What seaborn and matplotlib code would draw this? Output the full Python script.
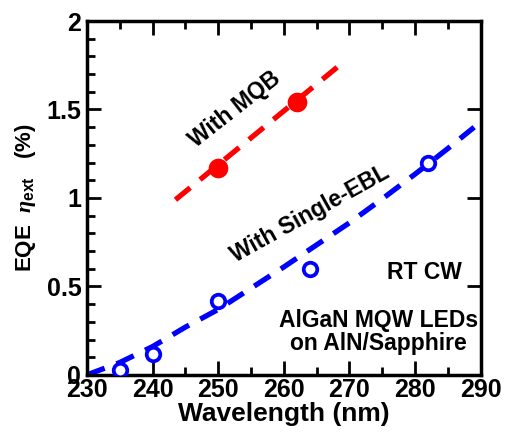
import numpy as np
import pandas as pd
import matplotlib
matplotlib.use("Agg")
import matplotlib.pyplot as plt
from matplotlib.ticker import MultipleLocator
import seaborn as sns

# data
mqb_wl = [250, 262]
mqb_eqe = [1.17, 1.54]
mqb_fit_wl = [243.5, 268.5]
mqb_fit_eqe = [0.99, 1.75]

ebl_wl = [235, 240, 250, 264, 282]
ebl_eqe = [0.03, 0.12, 0.42, 0.60, 1.20]
ebl_fit_wl = [230, 235, 240, 245, 250, 255, 260, 265, 270, 275, 280, 285, 289]
ebl_fit_eqe = [0.0, 0.07, 0.16, 0.27, 0.37, 0.49, 0.61, 0.735, 0.86, 0.995, 1.135, 1.28, 1.40]

y_ticks = [0, 0.5, 1, 1.5, 2]
y_ticklabels = ["0", "0.5", "1", "1.5", "2"]

sns.set_theme(style="ticks")
plt.rcParams["font.family"] = ["Liberation Sans", "DejaVu Sans"]
plt.rcParams["font.weight"] = "bold"
plt.rcParams["text.color"] = "black"
plt.rcParams["axes.labelcolor"] = "black"
plt.rcParams["xtick.color"] = "black"
plt.rcParams["ytick.color"] = "black"
plt.rcParams["mathtext.fontset"] = "custom"
plt.rcParams["mathtext.rm"] = "Liberation Sans:bold"
plt.rcParams["mathtext.bf"] = "Liberation Sans:bold"
plt.rcParams["mathtext.it"] = "Liberation Serif:italic"

fig = plt.figure(figsize=(5.05, 4.38), dpi=100)
ax = fig.add_axes([0.172, 0.144, 0.78, 0.808])

red = "#ff0000"
blue = "#0000ff"

# fitted (dashed) lines
sns.lineplot(x=mqb_fit_wl, y=mqb_fit_eqe, ax=ax, color=red, lw=3.8,
             linestyle=(0, (3.6, 2.4)))
sns.lineplot(x=ebl_fit_wl, y=ebl_fit_eqe, ax=ax, color=blue, lw=3.8,
             linestyle=(0, (3.6, 2.4)))
# measured points
sns.scatterplot(x=mqb_wl, y=mqb_eqe, ax=ax, color=red, s=200,
                edgecolor=red, linewidth=0, zorder=5)
sns.scatterplot(x=ebl_wl, y=ebl_eqe, ax=ax, s=95, facecolor="white",
                edgecolor=blue, linewidth=2.7, zorder=5)

ax.set_xlim(230, 290)
ax.set_ylim(0, 2)
ax.xaxis.set_major_locator(MultipleLocator(10))
ax.xaxis.set_minor_locator(MultipleLocator(5))
ax.yaxis.set_minor_locator(MultipleLocator(0.1))
ax.set_yticks(y_ticks)
ax.set_yticklabels(y_ticklabels)

ax.tick_params(which="both", direction="in", top=True, right=True, width=2,
               labelsize=18, pad=2, colors="black")
ax.tick_params(which="major", length=10)
ax.tick_params(which="minor", length=6)
ax.tick_params(axis="y", which="minor", right=False)
ax.tick_params(axis="y", pad=4)
for sp in ax.spines.values():
    sp.set_linewidth(2.5)
    sp.set_color("black")
for lab in ax.get_xticklabels() + ax.get_yticklabels():
    lab.set_fontweight("bold")

ax.set_xlabel("Wavelength (nm)", fontsize=19, fontweight="bold", labelpad=0, color="black")
ax.set_ylabel(r"EQE  $\eta_{\mathbf{ext}}$   (%)", fontsize=16, fontweight="bold",
              labelpad=6, color="black")

ax.text(252.6, 1.50, "With MQB", rotation=38, ha="center", va="center",
        fontsize=16.5, fontweight="bold", rotation_mode="anchor", color="black")
ax.text(264.0, 0.91, "With Single-EBL", rotation=29, ha="center", va="center",
        fontsize=16.5, fontweight="bold", rotation_mode="anchor", color="black")
ax.text(281.4, 0.58, "RT CW", ha="center", va="center", fontsize=16.5,
        fontweight="bold", color="black")
ax.text(274.4, 0.245, "AlGaN MQW LEDs\non AlN/Sapphire", ha="center", va="center",
        fontsize=16.5, fontweight="bold", linespacing=1.0, color="black")

fig.savefig("out.png", dpi=100)
